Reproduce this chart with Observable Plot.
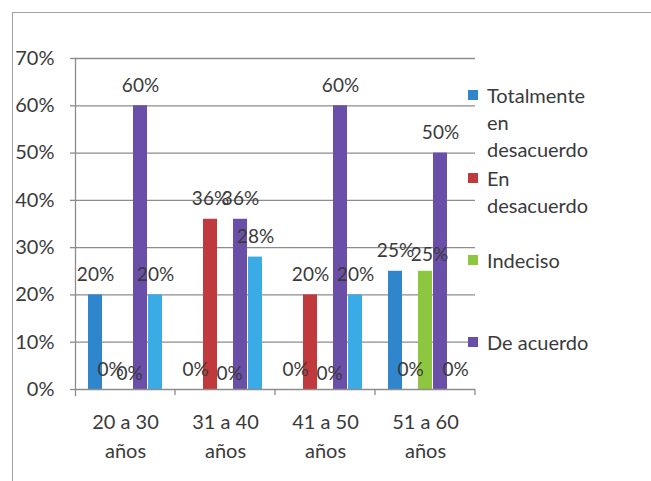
<!DOCTYPE html>
<html>
<head>
<meta charset="utf-8">
<script src="https://cdn.jsdelivr.net/npm/d3@7"></script>
<script src="https://cdn.jsdelivr.net/npm/@observablehq/plot@0.6"></script>
<style>
  body { margin: 0; background: #fff; }
  #wrap { position: relative; width: 651px; height: 481px; overflow: hidden; font-family: Lato, sans-serif; color: #3a3a3a; }
  #border { position: absolute; left: 12px; top: 12px; right: -4px; bottom: -4px; border-top: 1.5px solid #a3a3a3; border-left: 1.5px solid #a3a3a3; }
  #chart { position: absolute; left: 0; top: 0; }
  .legend-item { position: absolute; left: 468px; display: flex; align-items: flex-start; font-size: 20px; line-height: 27px; }
  .legend-item .swatch { width: 10px; height: 10px; margin-top: 8.5px; margin-right: 9px; flex: none; }
  .legend-item span { max-width: 118px; }
</style>
</head>
<body>
<div id="wrap">
  <div id="border"></div>
  <div id="chart"></div>
  <div id="legend"></div>
</div>
<script>
// Age groups (categories) and response options (series)
const groups = ["20 a 30 años", "31 a 40 años", "41 a 50 años", "51 a 60 años"];
const series = ["Totalmente en desacuerdo", "En desacuerdo", "Indeciso", "De acuerdo", "Totalmente de acuerdo"];

// Share of respondents per age group, one array per response option
const totalmenteEnDesacuerdo = [0.20, 0.00, 0.00, 0.25];
const enDesacuerdo           = [0.00, 0.36, 0.20, 0.00];
const indeciso               = [0.00, 0.00, 0.00, 0.25];
const deAcuerdo              = [0.60, 0.36, 0.60, 0.50];
const totalmenteDeAcuerdo    = [0.20, 0.28, 0.20, 0.00];

// Y axis ticks
const yTicks = [0, 0.1, 0.2, 0.3, 0.4, 0.5, 0.6, 0.7];

const colors = ["#2f86cc", "#c0393c", "#8dc63f", "#6a4fa8", "#3aabe4"];
const gridColor = "#8c8c8c";
const textColor = "#3a3a3a";

const valuesBySeries = [totalmenteEnDesacuerdo, enDesacuerdo, indeciso, deAcuerdo, totalmenteDeAcuerdo];
const data = series.flatMap((s, i) => groups.map((g, j) => ({group: g, series: s, value: valuesBySeries[i][j]})));

const pct = d3.format(".0%");

// Short ticks below the category axis at every group boundary
function boundaryTicks(index, scales, values, dimensions) {
  const {width, marginRight} = dimensions;
  const y0 = scales.y(0);
  const g = d3.create("svg:g").attr("stroke", gridColor).attr("stroke-width", 1.3);
  g.append("line")
    .attr("x1", width - marginRight).attr("x2", width - marginRight)
    .attr("y1", y0).attr("y2", y0 + 6);
  return g.node();
}

// Value labels; the "Indeciso" labels are nudged so they sit beside their neighbours
const labelOptions = {fx: "group", x: "series", y: "value", text: d => pct(d.value), fontSize: 19, fill: textColor};

const chart = Plot.plot({
  width: 651,
  height: 481,
  marginLeft: 75,
  marginRight: 176,
  marginTop: 58,
  marginBottom: 92,
  style: {fontFamily: "Lato, sans-serif", fontSize: "20px", color: textColor, background: "transparent", overflow: "visible"},
  fx: {domain: groups, padding: 0, label: null},
  x: {domain: series, paddingInner: 0.1, paddingOuter: 0.86, axis: null},
  y: {domain: [0, 0.7], label: null},
  color: {domain: series, range: colors},
  marks: [
    Plot.ruleY(yTicks.slice(1), {stroke: gridColor, strokeWidth: 1.3}),
    Plot.barY(data, {fx: "group", x: "series", y: "value", fill: "series"}),
    Plot.ruleY([0], {stroke: gridColor, strokeWidth: 1.3}),
    Plot.frame({anchor: "left", facetAnchor: "left", stroke: gridColor, strokeWidth: 1.3, insetBottom: -6}),
    boundaryTicks,
    Plot.text(data.filter(d => d.series !== "Indeciso"), {...labelOptions, dy: -20}),
    Plot.text(data.filter(d => d.series === "Indeciso"), {...labelOptions, dx: 4, dy: -16}),
    Plot.axisY({ticks: yTicks, tickFormat: pct, tickSize: 5, tickPadding: 16, stroke: gridColor, strokeWidth: 1.3, fontSize: 20, fill: textColor, label: null}),
    Plot.axisFx({anchor: "bottom", tickSize: 0, tickPadding: 19, tickFormat: d => d.replace(" años", "\naños"), lineHeight: 1.45, fontSize: 20, fill: textColor, label: null})
  ]
});
document.getElementById("chart").append(chart);

// Legend: the first four response options
const legendTops = [81.5, 164.5, 246.5, 328.5];
const legend = document.getElementById("legend");
series.slice(0, 4).forEach((s, i) => {
  const item = document.createElement("div");
  item.className = "legend-item";
  item.style.top = legendTops[i] + "px";
  const sw = document.createElement("div");
  sw.className = "swatch";
  sw.style.background = colors[i];
  const label = document.createElement("span");
  label.textContent = s;
  item.append(sw, label);
  legend.append(item);
});
</script>
</body>
</html>
